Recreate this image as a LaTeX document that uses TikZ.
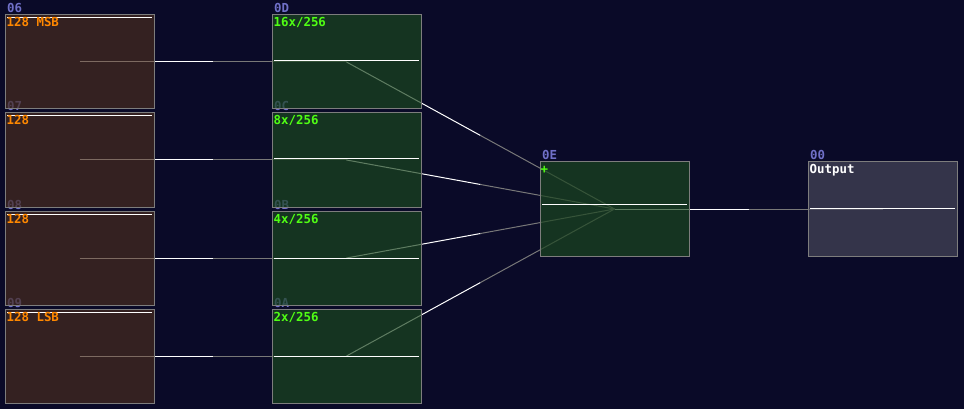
\documentclass[tikz,border=0pt]{standalone}
\usepackage{fontspec}
\setmonofont{DejaVu Sans Mono}
\usetikzlibrary{calc}
\pgfdeclarelayer{bgl}
\pgfdeclarelayer{back}
\pgfsetlayers{bgl,back,main}
\definecolor{bgc}{RGB}{10,10,40}
\definecolor{brownbox}{RGB}{70,44,31}
\definecolor{greenbox}{RGB}{27,70,31}
\definecolor{outbox}{RGB}{70,70,89}
\definecolor{bordc}{RGB}{125,125,125}
\definecolor{idc}{RGB}{112,112,200}
\definecolor{orangec}{RGB}{255,136,0}
\definecolor{greenc}{RGB}{80,255,20}
\definecolor{wgrayc}{RGB}{120,120,120}
\tikzset{
  box/.style={draw=bordc, line width=1pt, fill opacity=0.7, draw opacity=1,
    minimum width=149pt, minimum height=94pt, inner sep=0pt, outer sep=0pt, anchor=north west},
  lbox/.style={box, fill=brownbox},
  gbox/.style={box, fill=greenbox},
  obox/.style={box, fill=outbox},
  pixfont/.style={font=\ttfamily\bfseries\fontsize{12.4}{12.4}\selectfont, inner sep=0pt, anchor=base west},
  idlabel/.style={pixfont, text=idc},
  otext/.style={pixfont, text=orangec},
  gtext/.style={pixfont, text=greenc},
  wtext/.style={pixfont, text=white},
  bar/.style={draw=white, line width=1pt},
  wwhite/.style={draw=white, line width=1pt},
  wgray/.style={draw=wgrayc, line width=1pt},
}
\newcommand\wirex[2]{%
  \draw[wwhite] (#1.center) -- ($(#1.center)!0.5!(#2.center)$);
  \draw[wgray] ($(#1.center)!0.5!(#2.center)$) -- (#2.center);}
\newcommand\idlab[2]{%
  \begin{pgfonlayer}{back}
  \node[idlabel] (id#1) at ($(#1.north west)+(2,-2)$) {#2};
  \end{pgfonlayer}}
\newcommand\boxtext[3]{%
  \node[#3] (tx#1) at ($(#1.north west)+(1.5,12)$) {#2};}
\newcommand\boxbar[2]{%
  \draw[bar] ($(#1.north west)+(2,#2)$) -- ($(#1.north east)+(-2,#2)$);}
\begin{document}
\begin{tikzpicture}[x=1pt,y=-1pt]
\begin{pgfonlayer}{bgl}
\fill[bgc] (0,0) rectangle (964,409);
\end{pgfonlayer}
\useasboundingbox (0,0) rectangle (964,409);
% boxes
\node[lbox] (n06) at (5,15) {};
\node[lbox] (n07) at (5,113) {};
\node[lbox] (n08) at (5,211) {};
\node[lbox] (n09) at (5,309) {};
\node[gbox] (n0D) at (272,15) {};
\node[gbox] (n0C) at (272,113) {};
\node[gbox] (n0B) at (272,211) {};
\node[gbox] (n0A) at (272,309) {};
\node[gbox] (n0E) at (540,162) {};
\node[obox] (n00) at (808,162) {};
% ids
\idlab{n06}{06}
\idlab{n07}{07}
\idlab{n08}{08}
\idlab{n09}{09}
\idlab{n0D}{0D}
\idlab{n0C}{0C}
\idlab{n0B}{0B}
\idlab{n0A}{0A}
\idlab{n0E}{0E}
\idlab{n00}{00}
% wires
\begin{pgfonlayer}{back}
\wirex{n06}{n0D}
\wirex{n07}{n0C}
\wirex{n08}{n0B}
\wirex{n09}{n0A}
\wirex{n0D}{n0E}
\wirex{n0C}{n0E}
\wirex{n0B}{n0E}
\wirex{n0A}{n0E}
\wirex{n0E}{n00}
\end{pgfonlayer}
% bars
\boxbar{n06}{3}
\boxbar{n07}{3}
\boxbar{n08}{3}
\boxbar{n09}{3}
\boxbar{n0D}{45.5}
\boxbar{n0C}{46}
\boxbar{n0B}{47}
\boxbar{n0A}{47}
\boxbar{n0E}{42}
\boxbar{n00}{46}
% texts
\boxtext{n06}{128 MSB}{otext}
\boxtext{n07}{128}{otext}
\boxtext{n08}{128}{otext}
\boxtext{n09}{128 LSB}{otext}
\boxtext{n0D}{16x/256}{gtext}
\boxtext{n0C}{8x/256}{gtext}
\boxtext{n0B}{4x/256}{gtext}
\boxtext{n0A}{2x/256}{gtext}
\boxtext{n00}{Output}{wtext}
\node[gtext] (plus0E) at ($(n0E.north west)+(0.5,12)$) {+};
\end{tikzpicture}
\end{document}
